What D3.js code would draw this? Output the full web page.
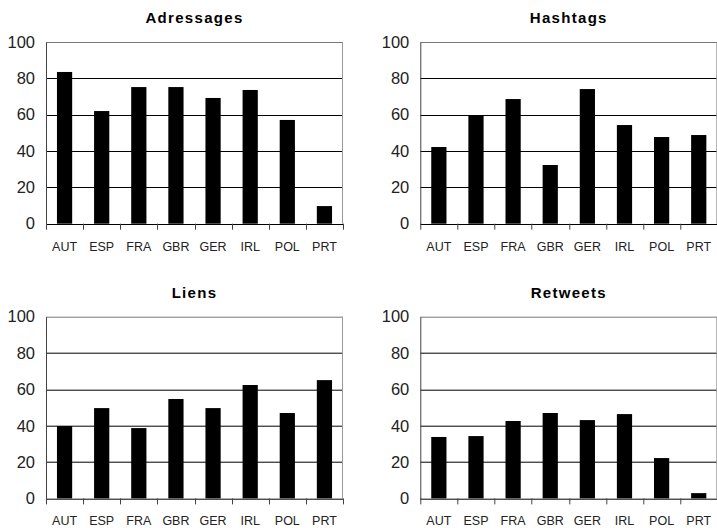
<!DOCTYPE html>
<html>
<head>
<meta charset="utf-8">
<script src="https://cdn.jsdelivr.net/npm/d3@7"></script>
<style>
html,body{margin:0;padding:0;background:#fff;}
svg{display:block;}
</style>
</head>
<body>
<svg id="chart" width="717" height="528"></svg>
<script>
const categories = ["AUT","ESP","FRA","GBR","GER","IRL","POL","PRT"];
const titles = ["Adressages","Hashtags","Liens","Retweets"];
const adressages = [83.5,62.0,75.2,75.2,69.2,73.6,57.1,9.7];
const hashtags = [42.2,59.3,68.6,32.3,74.1,54.3,47.7,48.8];
const liens = [39.8,49.7,38.7,54.7,49.7,62.4,47.0,65.1];
const retweets = [33.8,34.3,42.6,47.0,43.1,46.4,22.2,2.9];
const yTicks = [0,20,40,60,80,100];

const seriesList = [adressages, hashtags, liens, retweets];
const panels = [
  {x:46, y:42},
  {x:420.3, y:42},
  {x:46, y:316.7},
  {x:420.3, y:316.7}
];
const W = 297, H = 181.7;
const svg = d3.select("#chart");

panels.forEach((p, i) => {
  const g = svg.append("g").attr("transform", `translate(${p.x},${p.y})`);
  const x = d3.scaleBand().domain(categories).range([0, W]).paddingInner(0.59).paddingOuter(0.295);
  const y = d3.scaleLinear().domain([0, 100]).range([H, 0]);
  const xb = d3.scaleBand().domain(categories).range([0, W]);

  // gridlines
  g.selectAll("line.grid").data(yTicks.filter(t => t > 0 && t < 100)).enter().append("line")
    .attr("x1", 0).attr("x2", W)
    .attr("y1", d => Math.round(y(d)) + 0.5).attr("y2", d => Math.round(y(d)) + 0.5)
    .attr("stroke", "#000").attr("stroke-width", 1);
  // top border
  g.append("line").attr("x1", 0).attr("x2", W)
    .attr("y1", Math.round(y(100)) + 0.5).attr("y2", Math.round(y(100)) + 0.5)
    .attr("stroke", "#777").attr("stroke-width", 1);
  // right border
  g.append("line").attr("x1", W - 0.5).attr("x2", W - 0.5)
    .attr("y1", y(100)).attr("y2", y(0))
    .attr("stroke", "#999").attr("stroke-width", 1);

  // bars
  g.selectAll("rect.bar").data(seriesList[i]).enter().append("rect")
    .attr("x", (d, j) => x(categories[j]))
    .attr("width", x.bandwidth())
    .attr("y", d => y(d))
    .attr("height", d => y(0) - y(d))
    .attr("fill", "#000");

  // y axis
  const yAxis = d3.axisLeft(y).tickValues(yTicks).tickSize(0).tickPadding(11);
  const ya = g.append("g").call(yAxis);
  ya.select(".domain").attr("stroke", "#444");
  ya.selectAll("text").attr("font-family", "'Liberation Sans', Arial, sans-serif")
    .attr("font-size", 16.5).attr("fill", "#222");

  // x axis
  const xAxis = d3.axisBottom(xb).tickSize(0).tickPadding(18);
  const xa = g.append("g").attr("transform", `translate(0,${H})`).call(xAxis);
  xa.select(".domain").remove();
  xa.selectAll("text").attr("font-family", "'Liberation Sans', Arial, sans-serif")
    .attr("font-size", 12.5).attr("fill", "#222");
  g.append("line").attr("x1", 0).attr("x2", W)
    .attr("y1", Math.round(H) + 0.5).attr("y2", Math.round(H) + 0.5)
    .attr("stroke", "#000");
  const bounds = categories.map(c => xb(c)).concat([W]);
  g.selectAll("line.xt").data(bounds).enter().append("line")
    .attr("x1", d => Math.round(d) + 0.5).attr("x2", d => Math.round(d) + 0.5)
    .attr("y1", H).attr("y2", H + 6)
    .attr("stroke", "#444");

  // title
  g.append("text").attr("x", W / 2).attr("y", -19)
    .attr("text-anchor", "middle")
    .attr("font-family", "'Liberation Sans', Arial, sans-serif")
    .attr("font-weight", "bold").attr("font-size", 15)
    .attr("letter-spacing", 1.3)
    .text(titles[i]);
});
</script>
</body>
</html>
